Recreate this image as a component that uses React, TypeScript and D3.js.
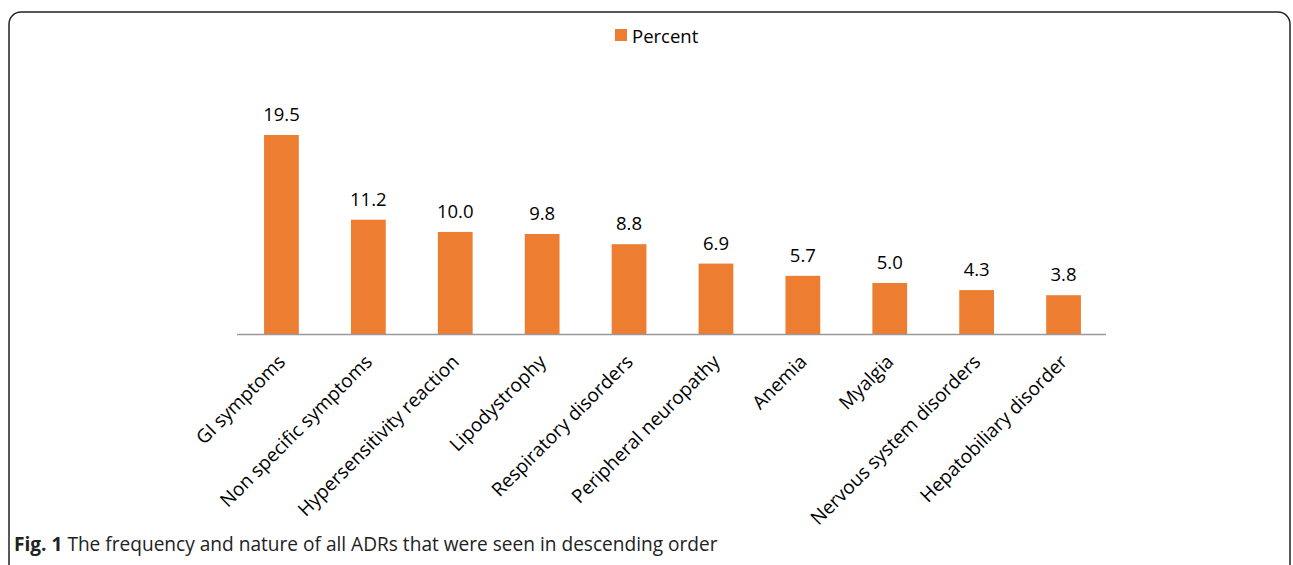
import React from "react";
import * as d3 from "d3";

const categories = [
  "GI symptoms",
  "Non specific symptoms",
  "Hypersensitivity reaction",
  "Lipodystrophy",
  "Respiratory disorders",
  "Peripheral neuropathy",
  "Anemia",
  "Myalgia",
  "Nervous system disorders",
  "Hepatobiliary disorder",
];
const percentValues = [19.5, 11.2, 10.0, 9.8, 8.8, 6.9, 5.7, 5.0, 4.3, 3.8];
const seriesName = "Percent";
const captionBold = "Fig. 1";
const captionText = " The frequency and nature of all ADRs that were seen in descending order";

const W = 1293;
const H = 565;
const plotLeft = 238;
const plotRight = 1107;
const baseY = 334;
const BAR_COLOR = "#ED7D31";
const FONT = "'Open Sans', 'Noto Sans', sans-serif";

export default function App() {
  const x = d3.scaleBand<string>().domain(categories).range([plotLeft, plotRight]).paddingInner(0.6).paddingOuter(0.3);
  const y = d3.scaleLinear().domain([0, 19.5]).range([baseY, 135]);
  const bw = x.bandwidth();
  return (
    <svg width={W} height={H} style={{ position: "absolute", left: 0, top: 0 }} fontFamily={FONT}>
      <rect x={0} y={0} width={W} height={H} fill="#fff" />
      <rect x={9} y={12} width={1281} height={600} rx={12} ry={12} fill="none" stroke="#222" strokeWidth={1.5} />
      {/* legend */}
      <rect x={615} y={29} width={12} height={12} fill={BAR_COLOR} />
      <text x={632} y={43} fontSize={18.5} fill="#000">{seriesName}</text>
      {categories.map((c, i) => {
        const v = percentValues[i];
        const bx = x(c)!;
        const cx = bx + bw / 2;
        return (
          <g key={c}>
            <rect x={bx} y={y(v)} width={bw} height={baseY - y(v)} fill={BAR_COLOR} />
            <text x={cx} y={y(v) - 14} fontSize={18.5} textAnchor="middle" fill="#000">{v.toFixed(1)}</text>
            <text
              transform={`translate(${cx + 5},${baseY + 29}) rotate(-45)`}
              fontSize={19}
              textAnchor="end"
              fill="#000"
            >{c}</text>
          </g>
        );
      })}
      <line x1={plotLeft - 1} x2={plotRight - 1} y1={baseY + 0.5} y2={baseY + 0.5} stroke="#999" strokeWidth={1.5} />
      <text x={14} y={551} fontSize={19.1} fill="#222">
        <tspan fontWeight="bold">{captionBold}</tspan>
        <tspan>{captionText}</tspan>
      </text>
    </svg>
  );
}
